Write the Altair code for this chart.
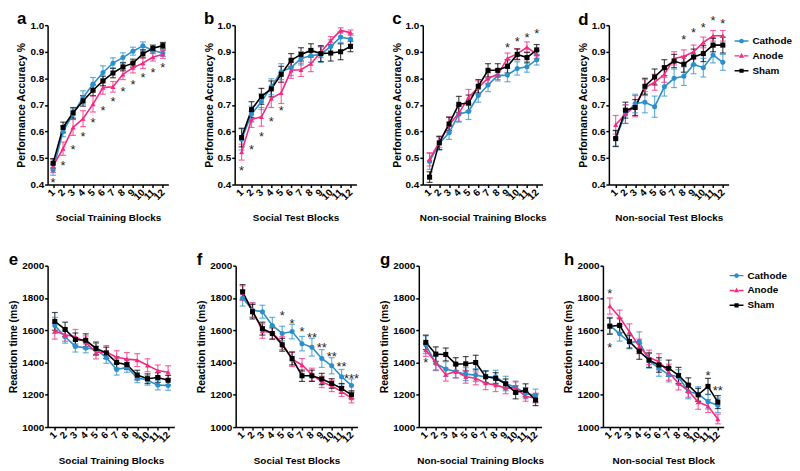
import altair as alt
import pandas as pd

blocks = list(range(1, 13))
groups = ["Cathode", "Anode", "Sham"]
colors = ["#2a8fcd", "#f8287f", "#000000"]
shapes = ["circle", "triangle-up", "square"]

# ---------------- panel a : Social Training Blocks (accuracy)
a_cathode = [0.455, 0.600, 0.665, 0.728, 0.778, 0.822, 0.857, 0.878, 0.902, 0.922, 0.905, 0.895]
a_anode = [0.470, 0.535, 0.615, 0.648, 0.703, 0.765, 0.768, 0.815, 0.840, 0.857, 0.880, 0.890]
a_sham = [0.480, 0.615, 0.670, 0.715, 0.755, 0.790, 0.820, 0.843, 0.857, 0.892, 0.913, 0.923]
a_cathode_err = [0.020, 0.020, 0.020, 0.025, 0.025, 0.025, 0.020, 0.018, 0.015, 0.015, 0.012, 0.012]
a_anode_err = [0.025, 0.025, 0.030, 0.030, 0.030, 0.025, 0.020, 0.020, 0.020, 0.020, 0.015, 0.015]
a_sham_err = [0.018, 0.020, 0.020, 0.020, 0.020, 0.018, 0.018, 0.015, 0.015, 0.015, 0.012, 0.012]
a_star_blocks = [1, 2, 3, 4, 5, 6, 7, 8, 9, 10, 11, 12]
a_star_y = [0.421, 0.485, 0.544, 0.594, 0.647, 0.692, 0.727, 0.762, 0.791, 0.815, 0.836, 0.852]
a_star_text = ["*"] * 12

# ---------------- panel b : Social Test Blocks (accuracy)
b_cathode = [0.570, 0.665, 0.712, 0.768, 0.825, 0.840, 0.875, 0.885, 0.890, 0.920, 0.955, 0.948]
b_anode = [0.522, 0.645, 0.655, 0.725, 0.745, 0.830, 0.832, 0.855, 0.898, 0.942, 0.980, 0.972]
b_sham = [0.577, 0.682, 0.732, 0.760, 0.815, 0.868, 0.890, 0.905, 0.893, 0.895, 0.900, 0.920]
b_cathode_err = [0.040, 0.030, 0.030, 0.030, 0.030, 0.030, 0.025, 0.025, 0.030, 0.025, 0.020, 0.020]
b_anode_err = [0.030, 0.030, 0.035, 0.035, 0.040, 0.030, 0.025, 0.030, 0.020, 0.015, 0.010, 0.010]
b_sham_err = [0.035, 0.030, 0.030, 0.030, 0.030, 0.025, 0.025, 0.025, 0.030, 0.030, 0.030, 0.020]
b_star_blocks = [1, 2, 3, 4, 5]
b_star_y = [0.464, 0.546, 0.595, 0.650, 0.690]
b_star_text = ["*"] * 5

# ---------------- panel c : Non-social Training Blocks (accuracy)
c_cathode = [0.487, 0.555, 0.595, 0.665, 0.675, 0.735, 0.775, 0.810, 0.812, 0.837, 0.843, 0.870]
c_anode = [0.495, 0.560, 0.625, 0.668, 0.728, 0.765, 0.800, 0.815, 0.875, 0.892, 0.917, 0.890]
c_sham = [0.428, 0.557, 0.628, 0.702, 0.707, 0.770, 0.830, 0.830, 0.845, 0.890, 0.878, 0.907]
c_cathode_err = [0.030, 0.025, 0.025, 0.030, 0.030, 0.025, 0.025, 0.020, 0.025, 0.025, 0.020, 0.020]
c_anode_err = [0.025, 0.020, 0.030, 0.030, 0.030, 0.025, 0.020, 0.020, 0.020, 0.020, 0.020, 0.015]
c_sham_err = [0.020, 0.025, 0.025, 0.030, 0.030, 0.025, 0.025, 0.025, 0.025, 0.020, 0.020, 0.020]
c_star_blocks = [9, 10, 11, 12]
c_star_y = [0.929, 0.953, 0.966, 0.980]
c_star_text = ["*"] * 4

# ---------------- panel d : Non-social Test Blocks (accuracy)
d_cathode = [0.575, 0.665, 0.705, 0.710, 0.693, 0.768, 0.800, 0.808, 0.852, 0.840, 0.888, 0.860]
d_anode = [0.625, 0.665, 0.695, 0.765, 0.785, 0.815, 0.875, 0.882, 0.900, 0.935, 0.960, 0.960]
d_sham = [0.573, 0.680, 0.690, 0.770, 0.805, 0.840, 0.865, 0.853, 0.880, 0.893, 0.925, 0.925]
d_cathode_err = [0.030, 0.035, 0.035, 0.040, 0.040, 0.035, 0.035, 0.035, 0.035, 0.035, 0.030, 0.030]
d_anode_err = [0.035, 0.035, 0.040, 0.030, 0.030, 0.030, 0.025, 0.025, 0.025, 0.020, 0.020, 0.020]
d_sham_err = [0.030, 0.030, 0.030, 0.030, 0.030, 0.030, 0.025, 0.030, 0.030, 0.030, 0.025, 0.030]
d_star_blocks = [8, 9, 10, 11, 12]
d_star_y = [0.960, 0.985, 1.004, 1.030, 1.020]
d_star_text = ["*"] * 5

# ---------------- panel e : Social Training Blocks (RT)
e_cathode = [1630, 1560, 1500, 1490, 1483, 1430, 1357, 1370, 1305, 1290, 1260, 1258]
e_anode = [1595, 1572, 1560, 1525, 1462, 1465, 1433, 1422, 1415, 1383, 1350, 1340]
e_sham = [1655, 1605, 1543, 1538, 1487, 1460, 1400, 1387, 1322, 1300, 1307, 1290]
e_cathode_err = [50, 40, 35, 30, 35, 35, 35, 30, 30, 30, 30, 30]
e_anode_err = [50, 40, 45, 40, 40, 40, 40, 40, 40, 40, 35, 40]
e_sham_err = [55, 45, 40, 40, 40, 35, 35, 30, 30, 30, 30, 30]
e_star_blocks = []
e_star_y = []
e_star_text = []

# ---------------- panel f : Social Test Blocks (RT)
f_cathode = [1800, 1725, 1715, 1630, 1580, 1592, 1517, 1495, 1425, 1380, 1312, 1258]
f_anode = [1830, 1725, 1595, 1585, 1520, 1420, 1385, 1325, 1280, 1255, 1220, 1180]
f_sham = [1838, 1715, 1610, 1580, 1510, 1425, 1318, 1318, 1298, 1270, 1240, 1200]
f_cathode_err = [50, 45, 40, 50, 45, 45, 45, 55, 55, 50, 45, 40]
f_anode_err = [45, 45, 45, 40, 40, 45, 40, 40, 35, 35, 30, 30]
f_sham_err = [45, 45, 40, 35, 40, 40, 35, 35, 35, 30, 30, 25]
f_star_blocks = [5, 6, 7, 8, 9, 10, 11, 12]
f_star_y = [1713, 1662, 1615, 1574, 1512, 1457, 1395, 1320]
f_star_text = ["*", "*", "*", "**", "**", "**", "**", "***"]

# ---------------- panel g : Non-social Training Blocks (RT)
g_cathode = [1510, 1395, 1360, 1345, 1328, 1322, 1310, 1312, 1270, 1245, 1210, 1195]
g_anode = [1478, 1400, 1325, 1345, 1312, 1302, 1272, 1260, 1242, 1245, 1190, 1180]
g_sham = [1525, 1452, 1450, 1390, 1392, 1400, 1312, 1302, 1268, 1215, 1228, 1168]
g_cathode_err = [55, 45, 45, 40, 40, 40, 40, 40, 45, 40, 35, 40]
g_anode_err = [40, 45, 40, 40, 40, 40, 40, 40, 35, 35, 30, 30]
g_sham_err = [45, 45, 40, 40, 45, 45, 35, 35, 30, 40, 40, 35]
g_star_blocks = [1]
g_star_y = [1421]
g_star_text = ["*"]

# ---------------- panel h : Non-social Test Block (RT)
h_cathode = [1630, 1578, 1525, 1530, 1410, 1365, 1325, 1310, 1220, 1205, 1157, 1135]
h_anode = [1750, 1680, 1590, 1500, 1432, 1405, 1340, 1270, 1225, 1155, 1130, 1050]
h_sham = [1625, 1630, 1530, 1470, 1415, 1385, 1365, 1320, 1260, 1200, 1252, 1155]
h_cathode_err = [50, 45, 40, 60, 45, 50, 45, 45, 45, 45, 45, 45]
h_anode_err = [50, 45, 50, 45, 45, 50, 50, 40, 40, 45, 40, 30]
h_sham_err = [50, 45, 40, 50, 45, 45, 50, 50, 45, 40, 50, 40]
h_star_blocks = [1, 1, 11, 12]
h_star_y = [1847, 1514, 1343, 1245]
h_star_text = ["*", "*", "*", "**"]

acc_ticks = [0.4, 0.5, 0.6, 0.7, 0.8, 0.9, 1.0]
rt_ticks = [1000, 1200, 1400, 1600, 1800, 2000]

FONT = "Liberation Sans"

# legend symbols: short line with the marker on it
legend_paths = [
    "M-1,-0.1H-0.3V0.1H-1Z M0.3,-0.1H1V0.1H0.3Z M0.34,0A0.34,0.34 0 1,1 -0.34,0A0.34,0.34 0 1,1 0.34,0Z",
    "M-1,-0.1H-0.3V0.1H-1Z M0.3,-0.1H1V0.1H0.3Z M0,-0.4L0.38,0.26L-0.38,0.26Z",
    "M-1,-0.1H-0.3V0.1H-1Z M0.3,-0.1H1V0.1H0.3Z M-0.3,-0.3H0.3V0.3H-0.3Z",
]


def make_df(cath, anod, sham, cath_e, anod_e, sham_e):
    rows = []
    for g, vals, errs in [("Cathode", cath, cath_e), ("Anode", anod, anod_e), ("Sham", sham, sham_e)]:
        for b, v, e in zip(blocks, vals, errs):
            rows.append({"block": b, "group": g, "mean": v, "lo": v - e, "hi": v + e})
    return pd.DataFrame(rows)


def make_stars(bl, ys, txt):
    return pd.DataFrame({"block": bl, "y": ys, "t": txt})


def legend_def(width, ly):
    return alt.Legend(title=None, orient="none", legendX=width + 6, legendY=ly,
                      labelFont=FONT, labelFontSize=10, labelFontWeight="bold",
                      labelColor="black", symbolSize=196, symbolStrokeWidth=0,
                      rowPadding=3, labelOffset=4, padding=0)


def panel(letter, df, stars, xtitle, ytitle, ydomain, yticks, fmt, width, height,
          legend_y=None, title_offset=-8, xdomain=(0.3, 12.6)):
    xs = alt.Scale(domain=list(xdomain), nice=False, zero=False)
    xax = alt.Axis(values=blocks, title=xtitle, labelAngle=-45, format="d", labelOverlap=False,
                   labelAlign="right", labelBaseline="middle", labelPadding=3, titlePadding=11,
                   titleFontSize=10)
    ys = alt.Scale(domain=ydomain, nice=False, zero=False)
    yax = alt.Axis(values=yticks, title=ytitle, format=fmt, titlePadding=3, labelPadding=1)
    X = alt.X("block:Q", scale=xs, axis=xax)
    col = alt.Color("group:N", scale=alt.Scale(domain=groups, range=colors), legend=None)
    shp = alt.Shape("group:N", scale=alt.Scale(domain=groups, range=shapes), legend=None)
    base = alt.Chart(df)
    rules = base.mark_rule(strokeWidth=1.2, opacity=0.7).encode(
        x=X, y=alt.Y("lo:Q", scale=ys, axis=yax), y2="hi:Q", color=col)
    cap_lo = base.mark_tick(orient="horizontal", size=6, thickness=1.2, opacity=0.7).encode(
        x=X, y=alt.Y("lo:Q", scale=ys, axis=yax), color=col)
    cap_hi = base.mark_tick(orient="horizontal", size=6, thickness=1.2, opacity=0.7).encode(
        x=X, y=alt.Y("hi:Q", scale=ys, axis=yax), color=col)
    lines = base.mark_line(strokeWidth=1.6).encode(
        x=X, y=alt.Y("mean:Q", scale=ys, axis=yax), color=col, order="block:Q")
    pts = base.mark_point(filled=True, size=26, opacity=1).encode(
        x=X, y=alt.Y("mean:Q", scale=ys, axis=yax), color=col, shape=shp)
    layers = [rules, cap_lo, cap_hi, lines, pts]
    if len(stars):
        txt = alt.Chart(stars).mark_text(font=FONT, fontSize=13, color="#222222",
                                         baseline="middle", dy=4).encode(
            x=X, y=alt.Y("y:Q", scale=ys, axis=yax), text="t:N")
        layers.append(txt)
    if legend_y is not None:
        leg = alt.Chart(pd.DataFrame({"group": groups})).transform_filter("false").mark_point(
            filled=True, opacity=1).encode(
            color=alt.Color("group:N", scale=alt.Scale(domain=groups, range=colors),
                            legend=legend_def(width, legend_y)),
            shape=alt.Shape("group:N", scale=alt.Scale(domain=groups, range=legend_paths),
                            legend=legend_def(width, legend_y)),
        )
        layers.append(leg)
    ch = alt.layer(*layers).resolve_scale(color="independent", shape="independent").properties(
        width=width, height=height,
        title=alt.TitleParams(text=letter, anchor="start", frame="bounds", fontSize=17,
                              fontWeight="bold", font=FONT, color="black", offset=title_offset),
    )
    return ch


HT = 161
HB = 163
pa = panel("a", make_df(a_cathode, a_anode, a_sham, a_cathode_err, a_anode_err, a_sham_err),
           make_stars(a_star_blocks, a_star_y, a_star_text), "Social Training Blocks",
           "Performance Accuracy %", [0.4, 1.0], acc_ticks, ".1f", 122, HT, xdomain=(0.45, 12.55))
pb = panel("b", make_df(b_cathode, b_anode, b_sham, b_cathode_err, b_anode_err, b_sham_err),
           make_stars(b_star_blocks, b_star_y, b_star_text), "Social Test Blocks",
           "Performance Accuracy %", [0.4, 1.0], acc_ticks, ".1f", 123, HT)
pc = panel("c", make_df(c_cathode, c_anode, c_sham, c_cathode_err, c_anode_err, c_sham_err),
           make_stars(c_star_blocks, c_star_y, c_star_text), "Non-social Training Blocks",
           "Performance Accuracy %", [0.4, 1.0], acc_ticks, ".1f", 121, HT)
pd_ = panel("d", make_df(d_cathode, d_anode, d_sham, d_cathode_err, d_anode_err, d_sham_err),
            make_stars(d_star_blocks, d_star_y, d_star_text), "Non-social Test Blocks",
            "Performance Accuracy %", [0.4, 1.0], acc_ticks, ".1f", 121, HT, legend_y=9,
            title_offset=-14)
pe = panel("e", make_df(e_cathode, e_anode, e_sham, e_cathode_err, e_anode_err, e_sham_err),
           make_stars(e_star_blocks, e_star_y, e_star_text), "Social Training Blocks",
           "Reaction time (ms)", [1000, 2000], rt_ticks, "d", 128, HB)
pf = panel("f", make_df(f_cathode, f_anode, f_sham, f_cathode_err, f_anode_err, f_sham_err),
           make_stars(f_star_blocks, f_star_y, f_star_text), "Social Test Blocks",
           "Reaction time (ms)", [1000, 2000], rt_ticks, "d", 123, HB)
pg = panel("g", make_df(g_cathode, g_anode, g_sham, g_cathode_err, g_anode_err, g_sham_err),
           make_stars(g_star_blocks, g_star_y, g_star_text), "Non-social Training Blocks",
           "Reaction time (ms)", [1000, 2000], rt_ticks, "d", 124, HB)
ph = panel("h", make_df(h_cathode, h_anode, h_sham, h_cathode_err, h_anode_err, h_sham_err),
           make_stars(h_star_blocks, h_star_y, h_star_text), "Non-social Test Block",
           "Reaction time (ms)", [1000, 2000], rt_ticks, "d", 122, HB, legend_y=3)

top = alt.hconcat(pa, pb, pc, pd_, spacing=67, bounds="flush")
bottom = alt.hconcat(pe, pf, pg, ph, spacing=62, bounds="flush")
chart = alt.concat(top, bottom, columns=1, align="none", spacing=28).properties(
    padding={"left": 0, "top": 0, "right": 0, "bottom": 0}
).configure_view(stroke=None).configure_axis(
    grid=False, domainColor="black", domainWidth=1.5, tickColor="black", tickWidth=1.5,
    tickSize=3, labelFont=FONT, labelFontWeight="bold", labelFontSize=10, labelColor="black",
    labelPadding=2, titleFont=FONT, titleFontWeight="bold", titleFontSize=10.5, titleColor="black",
)

chart.save("out.html", embed_options={"renderer": "svg", "actions": False})
